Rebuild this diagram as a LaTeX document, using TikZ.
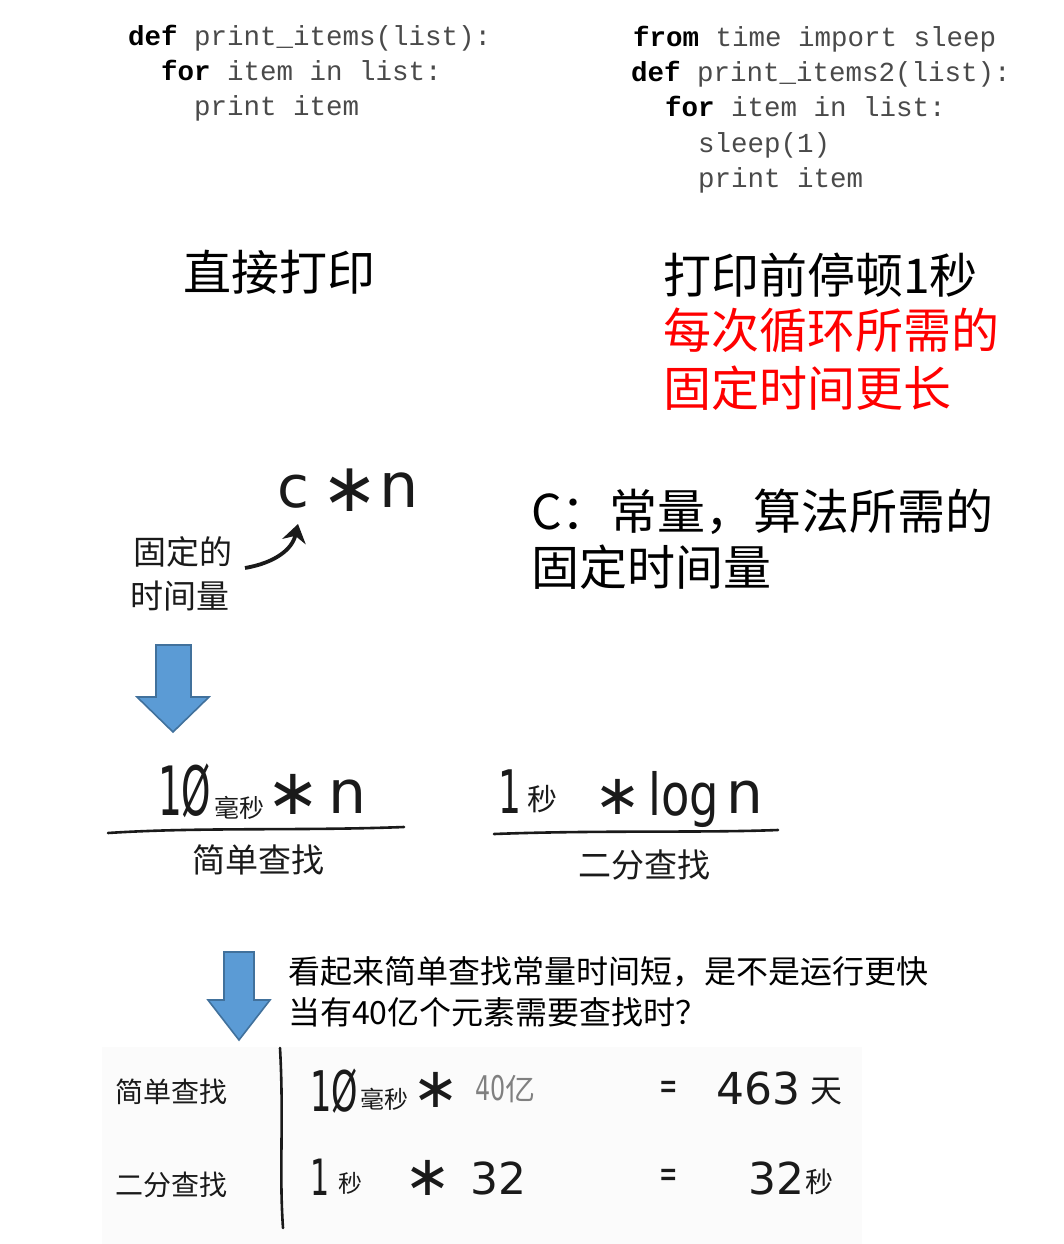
\documentclass[tikz,border=0pt]{standalone}
\usepackage{fontspec}
\usepackage{graphicx}
\usetikzlibrary{arrows.meta}
\newfontfamily\codefont{Liberation Mono}
\newfontfamily\cjk{Noto Sans CJK SC}
\newfontfamily\hw{DejaVu Sans}
\definecolor{codegray}{HTML}{4A4A4A}
\definecolor{arrowblue}{HTML}{5B9BD5}
\definecolor{arrowedge}{HTML}{41719C}
\definecolor{ink}{HTML}{1A1A1A}
\definecolor{bgtable}{HTML}{FBFBFB}
\newcommand{\kw}[1]{\textcolor{black}{\bfseries #1}}
\newcommand{\hwsq}[2]{\scalebox{#1}[1]{#2}}
\newcommand{\fs}[1]{\fontsize{#1}{#1}\selectfont}
\tikzset{
  code/.style={anchor=base west, inner sep=0pt, text=codegray, font=\codefont\fs{27.5}},
  big/.style={anchor=west, inner sep=0pt, font=\cjk\fs{48}},
  mid/.style={anchor=west, inner sep=0pt, font=\cjk\fs{32}},
  hwcn/.style={anchor=west, inner sep=0pt, text=ink},
  hwl/.style={anchor=base west, inner sep=0pt, text=ink},
  star/.style={anchor=center, inner ysep=0pt, inner xsep=-7pt, text=ink},
  barrow/.style={fill=arrowblue, draw=arrowedge, line width=1.6pt, line join=miter},
  inkline/.style={draw=ink, line width=2.6pt, line cap=round}
}
\begin{document}
\begin{tikzpicture}[x=1pt,y=-1pt]
\useasboundingbox (0,0) rectangle (1064,1244);
\fill[white] (0,0) rectangle (1064,1244);
\fill[bgtable] (102,1047) rectangle (862,1244);

% code block 1
\node[code] (c1) at (128,46) {\kw{def} print\_items(list):};
\node[code] (c2) at (161,81) {\kw{for} item in list:};
\node[code] (c3) at (194,116) {print item};
% code block 2
\node[code] (d1) at (633,47) {\kw{from} time import sleep};
\node[code] (d2) at (631,82) {\kw{def} print\_items2(list):};
\node[code] (d3) at (665,117) {\kw{for} item in list:};
\node[code] (d4) at (698,152) {sleep(1)};
\node[code] (d5) at (698,187) {print item};

% captions
\node[big] (t1) at (183,272) {直接打印};
\node[big] (t2) at (663,275) {打印前停顿1秒};
\node[big, text=red] (t3) at (663,330) {每次循环所需的};
\node[big, text=red] (t4) at (663,388) {固定时间更长};
\node[big] (t5) at (531,512) {C：常量，算法所需的};
\node[big] (t6) at (531,567) {固定时间量};

% c * n
\node[hwl] (cc) at (277,507) {\hw\fs{58}c};
\node[star] (cs) at (350,490) {\hw\fs{68}∗};
\node[hwl] (cn) at (379,507) {\hw\fs{62}n};
\node[hwcn, font=\cjk\fs{33}] (l1) at (133,552) {固定的};
\node[hwcn, font=\cjk\fs{33}] (l2) at (130,596) {时间量};
\coordinate (arrS) at (245,568);
\coordinate (arrE) at (298,524);
\draw[ink, line width=3.8pt, -{Stealth[length=18pt,width=24pt]}] (arrS) .. controls (274,563) and (292,550) .. (arrE);

% arrow 1
\path[barrow] (156,645) -- (191,645) -- (191,697) -- (209,697) -- (173,732) -- (137,697) -- (156,697) -- cycle;

% 10 ms * n
\node[hwl] (a1) at (158,815) {\hw\fs{68}\hwsq{0.55}{1Ø}};
\node[hwl] (a2) at (214,817) {\cjk\fs{25}毫秒};
\node[star] (a3) at (293,794) {\hw\fs{64}∗};
\node[hwl] (a4) at (328,813) {\hw\fs{60}n};
\draw[inkline] (108,833) .. controls (200,827) and (300,831) .. (404,827);
\node[hwcn, font=\cjk\fs{33}] (a5) at (192,860) {简单查找};

% 1 s * log n
\node[hwl] (b1) at (498,813) {\hw\fs{60}\hwsq{0.6}{1}};
\node[hwl] (b2) at (527,810) {\cjk\fs{30}秒};
\node[star] (b3) at (618,797) {\hw\fs{56}∗};
\node[hwl] (b4) at (648,815) {\hw\fs{58}\hwsq{0.8}{log}};
\node[hwl] (b5) at (726,813) {\hw\fs{58}n};
\draw[inkline] (494,834) .. controls (600,830) and (700,833) .. (778,830);
\node[hwcn, font=\cjk\fs{33}] (b6) at (578,865) {二分查找};

% arrow 2
\path[barrow] (224,952) -- (254,952) -- (254,1000) -- (270,1000) -- (239,1040) -- (208,1000) -- (224,1000) -- cycle;
\node[mid] (q1) at (288,972) {看起来简单查找常量时间短，是不是运行更快};
\node[mid] (q2) at (288,1012) {当有40亿个元素需要查找时？};

% table
\node[hwcn, font=\cjk\fs{28}] (r1) at (115,1092) {简单查找};
\node[hwcn, font=\cjk\fs{28}] (r2) at (115,1185) {二分查找};
\draw[inkline] (280,1048) .. controls (284,1120) and (279,1170) .. (283,1228);

\node[hwl] (e1) at (310,1111) {\hw\fs{56}\hwsq{0.6}{1Ø}};
\node[hwl] (e2) at (360,1108) {\cjk\fs{24}毫秒};
\node[star] (e3) at (436,1090) {\hw\fs{56}∗};
\node[hwl, text=gray] (e4) at (475,1100) {\hw\fs{34}\hwsq{0.7}{40}\cjk\fs{30}亿};
\node[star, inner xsep=0pt] (e5) at (669,1090) {\hw\fs{40}\hwsq{0.55}{=}};
\node[hwl] (e6) at (716,1104) {\hw\fs{44}463};
\node[hwl] (e7) at (810,1102) {\cjk\fs{32}天};

\node[hwl] (f1) at (310,1195) {\hw\fs{50}\hwsq{0.6}{1}};
\node[hwl] (f2) at (338,1192) {\cjk\fs{24}秒};
\node[star] (f3) at (428,1178) {\hw\fs{56}∗};
\node[hwl] (f4) at (470,1194) {\hw\fs{44}32};
\node[star, inner xsep=0pt] (f5) at (669,1178) {\hw\fs{40}\hwsq{0.55}{=}};
\node[hwl] (f6) at (748,1194) {\hw\fs{44}32};
\node[hwl] (f7) at (805,1192) {\cjk\fs{28}秒};
\end{tikzpicture}
\end{document}
